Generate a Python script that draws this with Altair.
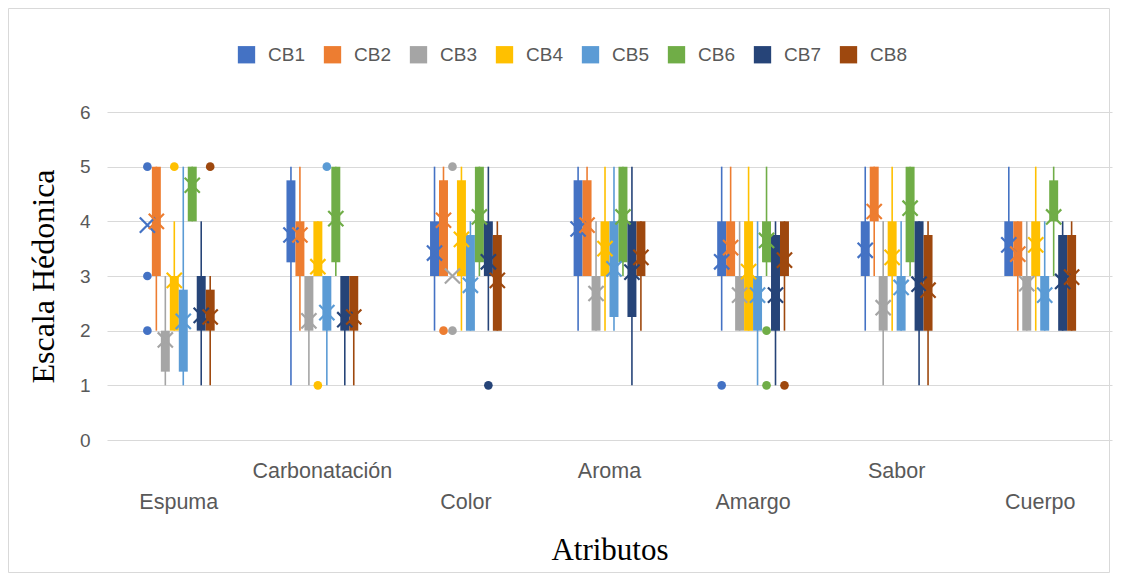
import altair as alt
import pandas as pd

CATS = ["Espuma", "Carbonatación", "Color", "Aroma", "Amargo", "Sabor", "Cuerpo"]
SERIES = ["CB1", "CB2", "CB3", "CB4", "CB5", "CB6", "CB7", "CB8"]
COLORS = ["#4472C4", "#ED7D31", "#A5A5A5", "#FFC000", "#5B9BD5", "#70AD47", "#264478", "#9E480E"]

# quartiles (box), whiskers, mean, per series, by category order above
Q1 = {
    "CB1": [4, 3.25, 3, 3, 3, 3, 3],
    "CB2": [3, 3, 3, 3, 3, 4, 3],
    "CB3": [1.25, 2, 3, 2, 2, 2, 2],
    "CB4": [2, 3, 3, 3, 2, 3, 3],
    "CB5": [1.25, 2, 2, 2.25, 2, 2, 2],
    "CB6": [4, 3.25, 3.25, 3.25, 3.25, 3.25, 4],
    "CB7": [2, 2, 3, 2.25, 2, 2, 2],
    "CB8": [2, 2, 2, 3, 3, 2, 2],
}
Q3 = {
    "CB1": [4, 4.75, 4, 4.75, 4, 4, 4],
    "CB2": [5, 4, 4.75, 4.75, 4, 5, 4],
    "CB3": [2, 3, 3, 3, 3, 3, 3],
    "CB4": [3, 4, 4.75, 4, 4, 4, 4],
    "CB5": [2.75, 3, 3.75, 4, 3, 3, 3],
    "CB6": [5, 5, 5, 5, 4, 5, 4.75],
    "CB7": [3, 3, 4, 4, 3.75, 4, 3.75],
    "CB8": [2.75, 3, 3.75, 4, 4, 3.75, 3.75],
}
LO = {
    "CB1": [4, 1, 2, 2, 2, 2, 3],
    "CB2": [2, 2, 3, 3, 3, 3, 2],
    "CB3": [1, 1, 3, 2, 2, 1, 2],
    "CB4": [2, 3, 2, 2, 2, 2, 2],
    "CB5": [1, 1, 2, 2, 1, 2, 2],
    "CB6": [4, 3, 3, 3, 3, 3, 3],
    "CB7": [1, 1, 2, 1, 1, 1, 2],
    "CB8": [1, 1, 2, 2, 2, 1, 2],
}
HI = {
    "CB1": [4, 5, 5, 5, 5, 5, 5],
    "CB2": [5, 5, 5, 5, 5, 5, 4],
    "CB3": [3, 3, 3, 4, 4, 4, 4],
    "CB4": [4, 4, 5, 5, 5, 5, 5],
    "CB5": [5, 3, 4, 5, 4, 4, 4],
    "CB6": [5, 5, 5, 5, 5, 5, 5],
    "CB7": [4, 3, 5, 5, 4, 4, 4],
    "CB8": [3, 3, 4, 4, 4, 4, 4],
}
MEAN = {
    "CB1": [3.93, 3.75, 3.42, 3.86, 3.26, 3.47, 3.57],
    "CB2": [4.0, 3.75, 4.02, 3.93, 3.52, 4.18, 3.4],
    "CB3": [1.83, 2.18, 3.0, 2.68, 2.65, 2.42, 2.86],
    "CB4": [2.92, 3.17, 3.67, 3.5, 3.08, 3.34, 3.57],
    "CB5": [2.17, 2.33, 2.83, 3.13, 2.65, 2.79, 2.65],
    "CB6": [4.66, 4.05, 4.08, 4.08, 3.65, 4.24, 4.08],
    "CB7": [2.28, 2.2, 3.26, 3.07, 2.65, 2.85, 2.9],
    "CB8": [2.25, 2.25, 2.92, 3.34, 3.29, 2.74, 2.98],
}
OUT_SERIES = ["CB1", "CB1", "CB1", "CB1", "CB2", "CB3", "CB3", "CB4", "CB4", "CB5", "CB6", "CB6", "CB7", "CB8", "CB8"]
OUT_CAT = ["Espuma", "Espuma", "Espuma", "Amargo", "Color", "Color", "Color", "Espuma", "Carbonatación",
           "Carbonatación", "Amargo", "Amargo", "Color", "Espuma", "Amargo"]
OUT_VAL = [5, 3, 2, 1, 2, 5, 2, 5, 1, 5, 2, 1, 1, 5, 1]

rows = []
for s in SERIES:
    for i, c in enumerate(CATS):
        rows.append({"series": s, "cat": c, "q1": Q1[s][i], "q3": Q3[s][i],
                     "lo": LO[s][i], "hi": HI[s][i], "mean": MEAN[s][i]})
df = pd.DataFrame(rows)
out_df = pd.DataFrame({"series": OUT_SERIES, "cat": OUT_CAT, "val": OUT_VAL})
lab_even = pd.DataFrame({"cat": CATS[0::2]})
lab_odd = pd.DataFrame({"cat": CATS[1::2]})

SERIF = "Liberation Serif"
SANS = "Liberation Sans"
GRAY = "#595959"

# empty slots on each side of a category group, so the 8 boxes sit close together in the middle
OFFSET_DOMAIN = ["_l1", "_l2", "_l3", "_l4"] + SERIES + ["_r1", "_r2", "_r3", "_r4"]

x_axis = alt.Axis(labels=False, ticks=False, domain=False, grid=False, title="Atributos",
                  titleFont=SERIF, titleFontSize=31, titleFontWeight="normal", titleColor="black",
                  titlePadding=95)
X = alt.X("cat:N", sort=CATS, scale=alt.Scale(paddingInner=0, paddingOuter=0), axis=x_axis)
XO = alt.XOffset("series:N", scale=alt.Scale(domain=OFFSET_DOMAIN, paddingOuter=0, paddingInner=0))
y_axis = alt.Axis(values=[0, 1, 2, 3, 4, 5, 6], grid=True, gridColor="#d9d9d9", domain=False, ticks=False,
                  labelFont=SANS, labelFontSize=19, labelColor=GRAY, labelPadding=17,
                  title="Escala Hédonica", titleFont=SERIF, titleFontSize=32, titleFontWeight="normal",
                  titleColor="black", titlePadding=19)
YS = alt.Scale(domain=[0, 6])
cscale = alt.Scale(domain=SERIES, range=COLORS)

legend = alt.Legend(orient="none", legendX=130, legendY=-67, direction="horizontal",
                    title=None, symbolType="square", symbolSize=300,
                    symbolStrokeWidth=0, labelFont=SANS, labelFontSize=19,
                    labelColor=GRAY, labelOffset=12, columnPadding=18)

base = alt.Chart(df)

whisk = base.mark_rule(strokeWidth=1.6).encode(
    x=X, xOffset=XO,
    y=alt.Y("lo:Q", scale=YS, axis=y_axis), y2="hi:Q",
    color=alt.Color("series:N", scale=cscale, sort=SERIES, legend=legend),
)

boxes = base.mark_bar(strokeWidth=0).encode(
    x=X, xOffset=XO,
    y=alt.Y("q1:Q", scale=YS, axis=y_axis), y2="q3:Q",
    color=alt.Color("series:N", scale=cscale, sort=SERIES, legend=legend),
)

means = base.mark_point(shape="M-1,-1L1,1M-1,1L1,-1", filled=False, strokeWidth=2.2, size=230, opacity=1).encode(
    x=X, xOffset=XO,
    y=alt.Y("mean:Q", scale=YS, axis=y_axis),
    color=alt.Color("series:N", scale=cscale, sort=SERIES, legend=legend),
)

outliers = alt.Chart(out_df).mark_circle(size=75, opacity=1).encode(
    x=X, xOffset=XO,
    y=alt.Y("val:Q", scale=YS, axis=y_axis),
    color=alt.Color("series:N", scale=cscale, sort=SERIES, legend=legend),
)

lab1 = alt.Chart(lab_even).mark_text(font=SANS, fontSize=21.5, color=GRAY, baseline="middle").encode(
    x=X, y=alt.value(391), text="cat:N")
lab2 = alt.Chart(lab_odd).mark_text(font=SANS, fontSize=21.5, color=GRAY, baseline="middle").encode(
    x=X, y=alt.value(360), text="cat:N")

frame = alt.Chart(pd.DataFrame({"k": [0]})).mark_rect(fill=None, stroke="#d9d9d9", strokeWidth=1).encode(
    x=alt.value(-98.5), x2=alt.value(1002.5), y=alt.value(-103.5), y2=alt.value(460.5))

chart = alt.layer(frame, whisk, boxes, means, outliers, lab1, lab2).properties(
    width=1005, height=328,
    autosize=alt.AutoSizeParams(type="none"),
    padding={"left": 99, "top": 104, "right": 5, "bottom": 133},
    background="white",
).configure_view(stroke=None)

chart.save("out.html", embed_options={"renderer": "svg", "actions": False})
